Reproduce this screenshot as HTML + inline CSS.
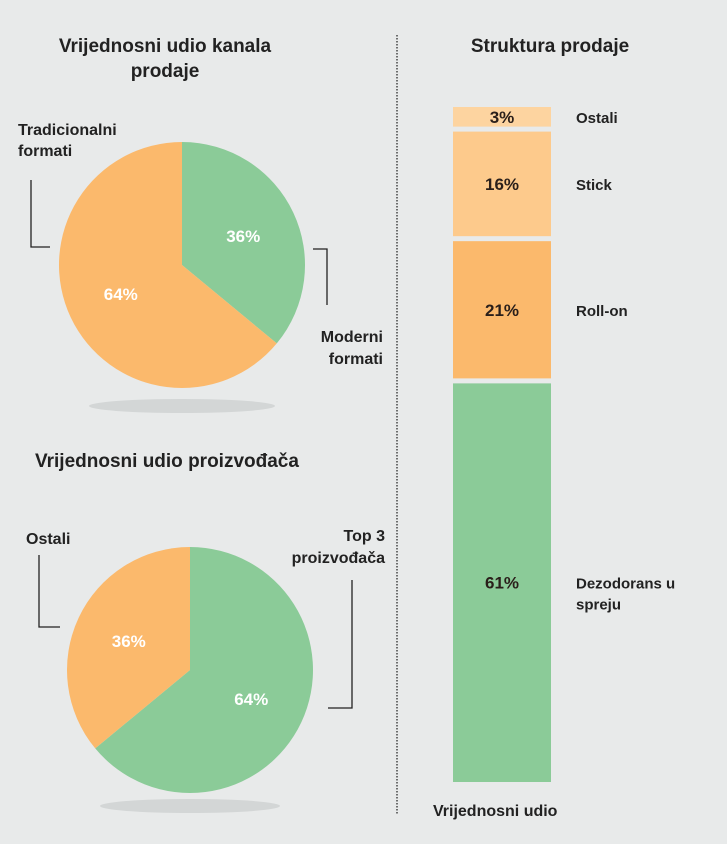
<!DOCTYPE html>
<html><head><meta charset="utf-8"><style>
body{margin:0;background:#e8eaea;font-family:"Liberation Sans",sans-serif;}
svg{display:block}
</style></head><body>
<svg id="c" width="727" height="844">
<rect width="727" height="844" fill="#e8eaea"/>
<line x1="397" y1="35" x2="397" y2="815" stroke="#444" stroke-width="1.5" stroke-dasharray="1.5,1.5"/>
<g font-weight="bold" fill="#222" font-size="19">
<text x="165" y="52" text-anchor="middle">Vrijednosni udio kanala</text>
<text x="165" y="77" text-anchor="middle">prodaje</text>
<text x="550" y="52" text-anchor="middle">Struktura prodaje</text>
<text x="35" y="467">Vrijednosni udio proizvođača</text>
</g>
<g font-size="16" fill="#222" font-weight="bold">
<text x="18" y="135">Tradicionalni</text>
<text x="18" y="156">formati</text>
<text x="383" y="342" text-anchor="end">Moderni</text>
<text x="383" y="364" text-anchor="end">formati</text>
<text x="26" y="544">Ostali</text>
<text x="385" y="541" text-anchor="end">Top 3</text>
<text x="385" y="563" text-anchor="end">proizvođača</text>
<text x="433" y="816">Vrijednosni udio</text>
</g>
<g stroke="#222" stroke-width="1.3" fill="none">
<polyline points="31,180 31,247 50,247"/>
<polyline points="313,249 327,249 327,305"/>
<polyline points="39,555 39,627 60,627"/>
<polyline points="352,580 352,708 328,708"/>
</g>
<ellipse cx="182" cy="406" rx="93" ry="7" fill="#d3d6d6"/>
<ellipse cx="190" cy="806" rx="90" ry="7" fill="#d3d6d6"/>
<g id="g"></g>
</svg>
<script>
const pie1Labels=["Moderni formati","Tradicionalni formati"];
const pie1Values=[36,64];
const pie2Labels=["Top 3 proizvođača","Ostali"];
const pie2Values=[64,36];
const barCats=["Ostali","Stick","Roll-on","Dezodorans u spreju"];
const barValues=[3,16,21,61];
const NS="http://www.w3.org/2000/svg";
const grp=document.getElementById('g');
function mk(t,a){const e=document.createElementNS(NS,t);for(const k in a)e.setAttribute(k,a[k]);grp.appendChild(e);return e;}
function pie(cx,cy,r,vals,cols,labs,prefix){
  const tot=vals.reduce((a,b)=>a+b,0);let a0=0;
  vals.forEach((v,i)=>{
    const a1=a0+v/tot*2*Math.PI;
    const p=(a)=>[cx+r*Math.sin(a),cy-r*Math.cos(a)];
    const [x0,y0]=p(a0),[x1,y1]=p(a1);
    const el=mk('path',{d:`M${cx},${cy}L${x0},${y0}A${r},${r} 0 ${a1-a0>Math.PI?1:0} 1 ${x1},${y1}Z`,fill:cols[i]});
    
    
    const m=(a0+a1)/2,lr=r*0.55;
    const t=mk('text',{x:cx+lr*Math.sin(m),y:cy-lr*Math.cos(m)+6,'text-anchor':'middle',fill:'#fff','font-weight':'bold','font-size':'17'});
    t.textContent=v+'%';
    
    
    a0=a1;
  });
}
pie(182,265,123,pie1Values,['#8bcb98','#fbb96c'],pie1Labels,'pie1');
pie(190,670,123,pie2Values,['#8bcb98','#fbb96c'],pie2Labels,'pie2');
const barTop=107,barBottom=782,gap=5,bx=453,bw=98;
const barTot=barValues.reduce((a,b)=>a+b,0);
const scale=(barBottom-barTop-gap*(barValues.length-1))/barTot;
const bcols=['#fdd4a0','#fdca8c','#fbb96c','#8bcb98'];
let yy=barTop;
barValues.forEach((v,i)=>{
  const h=v*scale;
  const r=mk('rect',{x:bx,y:yy,width:bw,height:h,fill:bcols[i]});
  
  
  const t=mk('text',{x:bx+bw/2,y:yy+h/2+6,'text-anchor':'middle',fill:'#2a1f1a','font-weight':'bold','font-size':'17'});
  t.textContent=v+'%';
  
  
  const words=barCats[i]==="Dezodorans u spreju"?["Dezodorans u","spreju"]:[barCats[i]];
  words.forEach((w,j)=>{
    const l=mk('text',{x:576,y:yy+h/2+6+j*21,fill:'#222','font-weight':'bold','font-size':'15'});
    l.textContent=w;
    
    
  });
  yy+=h+gap;
});
</script>
</body></html>
